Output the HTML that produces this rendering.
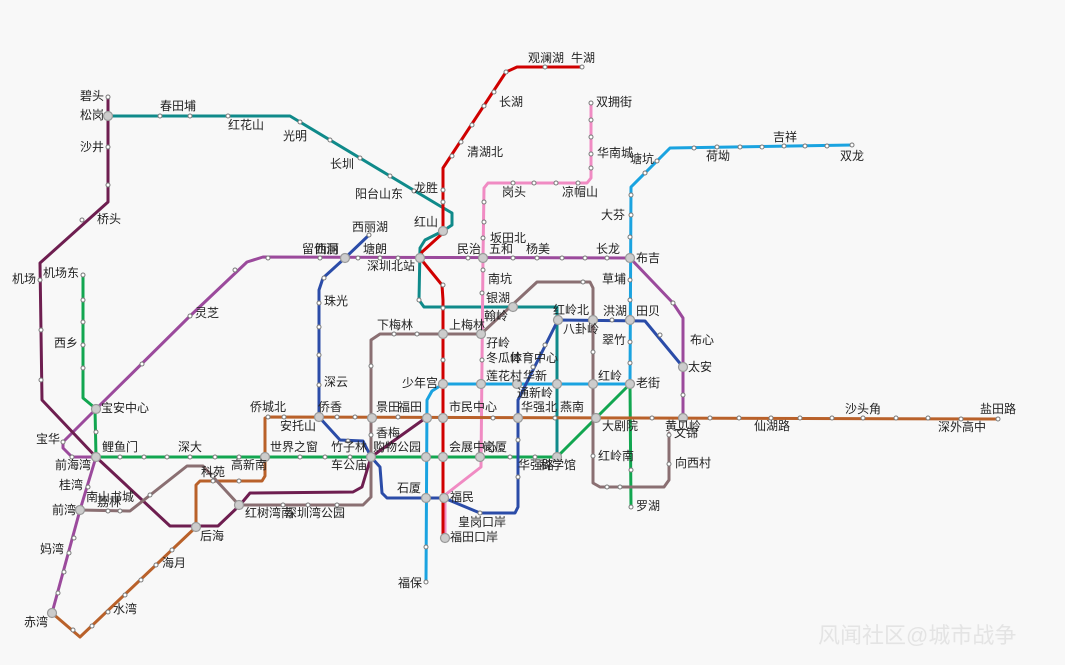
<!DOCTYPE html>
<html><head><meta charset="utf-8"><style>
html,body{margin:0;padding:0;background:#f8f8f8;}
svg{display:block;}
text{font-family:"Liberation Sans","Noto Sans CJK SC",sans-serif;font-size:12px;fill:#222;}
.l{fill:none;stroke-width:3;stroke-linejoin:round;stroke-linecap:round;}
</style></head><body>
<svg width="1065" height="665" viewBox="0 0 1065 665" xmlns="http://www.w3.org/2000/svg">
<rect width="1065" height="665" fill="#f8f8f8"/>
<!-- lines -->
<polyline class="l" stroke="#0f8a8a" points="108,116 290,116 440,206 452,213 452,225 443,231 425,240 420,248 419,300 424,307 557,307 557,457"/>
<polyline class="l" stroke="#f08bc3" points="591,103 591,178 587,183 488,183 484,188 483,258 481,467 445,495 445,538"/>
<polyline class="l" stroke="#d00000" points="582,67 517,67 506,72 443,168 443,233 422,252 420,258 442,285 443,300 443,537"/>
<polyline class="l" stroke="#1aa3e0" points="852,145 670,148 631,187 630,384 443,384 432,391 427,400 426,582"/>
<polyline class="l" stroke="#12a650" points="83,275 83,398 95,408 96,457 557,457 630,384 631,507"/>
<polyline class="l" stroke="#b9612a" points="52,613 80,637 196,527 196,485 200,481 262,481 265,476 265,418 268,417 998,419"/>
<polyline class="l" stroke="#9b4a9c" points="52,613 80,510 96,457 72,457 63,448 63,442 96,409 190,316 247,262 263,257 630,258 673,303 683,318 683,418"/>
<polyline class="l" stroke="#6e1e50" points="108,97 108,202 40,263 42,400 96,457 170,526 218,526 240,505 250,493 353,492 362,487 371,457 427,417"/>
<polyline class="l" stroke="#2b4ca8" points="369,235 345,258 323,278 319,290 319,417 340,440 363,441 371,457 380,467 382,493 387,498 444,498 480,513 515,513 518,507 518,400 558,320 645,321 683,367"/>
<polyline class="l" stroke="#8a6f72" points="80,510 130,511 187,466 203,466 239,505 363,505 371,497 371,340 380,334 481,334 537,282 590,282 593,288 593,483 600,487 664,487 669,480 669,433"/>
<!-- small stations -->
<g fill="#fff" stroke="#777" stroke-width="1">
<circle cx="108" cy="97" r="2"/><circle cx="108" cy="147" r="2"/><circle cx="108" cy="185" r="2"/><circle cx="82" cy="220" r="2"/><circle cx="40" cy="280" r="2"/><circle cx="41" cy="330" r="2"/><circle cx="41" cy="380" r="2"/>
<circle cx="160" cy="116" r="2"/><circle cx="190" cy="116" r="2"/><circle cx="228" cy="116" r="2"/><circle cx="300" cy="122" r="2"/><circle cx="330" cy="140" r="2"/><circle cx="360" cy="158" r="2"/><circle cx="390" cy="176" r="2"/><circle cx="414" cy="191" r="2"/><circle cx="419" cy="300" r="2"/>
<circle cx="83" cy="275" r="2"/><circle cx="83" cy="300" r="2"/><circle cx="83" cy="322" r="2"/><circle cx="83" cy="345" r="2"/><circle cx="83" cy="368" r="2"/><circle cx="96" cy="432" r="2"/>
<circle cx="120" cy="457" r="2"/><circle cx="144" cy="457" r="2"/><circle cx="167" cy="457" r="2"/><circle cx="190" cy="457" r="2"/><circle cx="215" cy="457" r="2"/><circle cx="239" cy="457" r="2"/><circle cx="300" cy="457" r="2"/><circle cx="325" cy="457" r="2"/><circle cx="350" cy="457" r="2"/><circle cx="510" cy="457" r="2"/><circle cx="535" cy="457" r="2"/>
<circle cx="190" cy="316" r="2"/><circle cx="142" cy="364" r="2"/><circle cx="235" cy="270" r="2"/><circle cx="268" cy="258" r="2"/><circle cx="320" cy="258" r="2"/><circle cx="358" cy="258" r="2"/><circle cx="380" cy="258" r="2"/><circle cx="398" cy="258" r="2"/><circle cx="468" cy="258" r="2"/><circle cx="513" cy="258" r="2"/><circle cx="537" cy="258" r="2"/><circle cx="562" cy="258" r="2"/><circle cx="585" cy="258" r="2"/><circle cx="607" cy="258" r="2"/><circle cx="673" cy="303" r="2"/><circle cx="683" cy="395" r="2"/>
<circle cx="63" cy="442" r="2"/><circle cx="72" cy="457" r="2"/><circle cx="88" cy="487" r="2"/><circle cx="74" cy="538" r="2"/><circle cx="69" cy="553" r="2"/><circle cx="64" cy="572" r="2"/><circle cx="58" cy="593" r="2"/>
<circle cx="73" cy="630" r="2"/><circle cx="92" cy="626" r="2"/><circle cx="108" cy="612" r="2"/><circle cx="125" cy="595" r="2"/><circle cx="141" cy="580" r="2"/><circle cx="156" cy="565" r="2"/><circle cx="172" cy="550" r="2"/><circle cx="213" cy="481" r="2"/><circle cx="239" cy="481" r="2"/><circle cx="268" cy="417" r="2"/><circle cx="284" cy="417" r="2"/><circle cx="337" cy="417" r="2"/><circle cx="355" cy="417" r="2"/><circle cx="398" cy="417" r="2"/><circle cx="493" cy="418" r="2"/><circle cx="555" cy="418" r="2"/><circle cx="652" cy="418" r="2"/><circle cx="710" cy="418" r="2"/><circle cx="739" cy="418" r="2"/><circle cx="771" cy="418" r="2"/><circle cx="800" cy="418" r="2"/><circle cx="832" cy="418" r="2"/><circle cx="863" cy="418" r="2"/><circle cx="896" cy="418" r="2"/><circle cx="928" cy="418" r="2"/><circle cx="961" cy="419" r="2"/><circle cx="998" cy="419" r="2"/>
<circle cx="108" cy="511" r="2"/><circle cx="120" cy="511" r="2"/><circle cx="150" cy="495" r="2"/><circle cx="213" cy="476" r="2"/><circle cx="283" cy="505" r="2"/><circle cx="308" cy="505" r="2"/><circle cx="337" cy="505" r="2"/><circle cx="371" cy="435" r="2"/><circle cx="371" cy="366" r="2"/><circle cx="394" cy="334" r="2"/><circle cx="417" cy="334" r="2"/><circle cx="583" cy="282" r="2"/><circle cx="593" cy="352" r="2"/><circle cx="593" cy="456" r="2"/><circle cx="607" cy="487" r="2"/><circle cx="620" cy="487" r="2"/><circle cx="669" cy="464" r="2"/><circle cx="669" cy="435" r="2"/>
<circle cx="369" cy="235" r="2"/><circle cx="324" cy="278" r="2"/><circle cx="319" cy="303" r="2"/><circle cx="319" cy="327" r="2"/><circle cx="319" cy="355" r="2"/><circle cx="319" cy="385" r="2"/><circle cx="348" cy="441" r="2"/><circle cx="480" cy="513" r="2"/><circle cx="518" cy="477" r="2"/><circle cx="518" cy="440" r="2"/><circle cx="533" cy="367" r="2"/><circle cx="545" cy="345" r="2"/><circle cx="612" cy="320" r="2"/><circle cx="660" cy="335" r="2"/>
<circle cx="506" cy="72" r="2"/><circle cx="545" cy="67" r="2"/><circle cx="582" cy="67" r="2"/><circle cx="494" cy="92" r="2"/><circle cx="484" cy="106" r="2"/><circle cx="472" cy="125" r="2"/><circle cx="461" cy="142" r="2"/><circle cx="452" cy="156" r="2"/><circle cx="443" cy="190" r="2"/><circle cx="443" cy="202" r="2"/><circle cx="443" cy="285" r="2"/><circle cx="443" cy="308" r="2"/><circle cx="443" cy="360" r="2"/>
<circle cx="591" cy="103" r="2"/><circle cx="591" cy="120" r="2"/><circle cx="591" cy="137" r="2"/><circle cx="591" cy="154" r="2"/><circle cx="591" cy="168" r="2"/><circle cx="578" cy="183" r="2"/><circle cx="556" cy="183" r="2"/><circle cx="534" cy="183" r="2"/><circle cx="513" cy="183" r="2"/><circle cx="484" cy="202" r="2"/><circle cx="484" cy="222" r="2"/><circle cx="483" cy="238" r="2"/><circle cx="483" cy="270" r="2"/><circle cx="482" cy="293" r="2"/><circle cx="482" cy="360" r="2"/>
<circle cx="852" cy="145" r="2"/><circle cx="827" cy="146" r="2"/><circle cx="805" cy="146" r="2"/><circle cx="784" cy="146" r="2"/><circle cx="762" cy="147" r="2"/><circle cx="740" cy="147" r="2"/><circle cx="717" cy="147" r="2"/><circle cx="694" cy="148" r="2"/><circle cx="657" cy="161" r="2"/><circle cx="645" cy="173" r="2"/><circle cx="631" cy="195" r="2"/><circle cx="631" cy="215" r="2"/><circle cx="630" cy="237" r="2"/><circle cx="630" cy="280" r="2"/><circle cx="630" cy="300" r="2"/><circle cx="630" cy="342" r="2"/><circle cx="630" cy="363" r="2"/><circle cx="426" cy="547" r="2"/><circle cx="426" cy="582" r="2"/>
<circle cx="631" cy="507" r="2"/><circle cx="631" cy="470" r="2"/>
</g>
<!-- interchange stations -->
<g fill="#ccc" stroke="#999" stroke-width="1.2">
<circle cx="108" cy="116" r="4.5"/><circle cx="96" cy="409" r="4.5"/><circle cx="96" cy="457" r="4.5"/><circle cx="80" cy="510" r="4.5"/><circle cx="52" cy="613" r="4.5"/><circle cx="196" cy="527" r="4.5"/><circle cx="239" cy="505" r="4.5"/><circle cx="265" cy="457" r="4.5"/><circle cx="319" cy="417" r="4.5"/><circle cx="371" cy="457" r="4.5"/><circle cx="372" cy="418" r="4.5"/><circle cx="427" cy="418" r="4.5"/><circle cx="426" cy="457" r="4.5"/><circle cx="443" cy="457" r="4.5"/><circle cx="443" cy="418" r="4.5"/><circle cx="480" cy="457" r="4.5"/><circle cx="426" cy="498" r="4.5"/><circle cx="444" cy="498" r="4.5"/><circle cx="445" cy="538" r="4.5"/><circle cx="443" cy="384" r="4.5"/><circle cx="481" cy="384" r="4.5"/><circle cx="517" cy="384" r="4.5"/><circle cx="557" cy="384" r="4.5"/><circle cx="593" cy="384" r="4.5"/><circle cx="630" cy="384" r="4.5"/><circle cx="518" cy="418" r="4.5"/><circle cx="443" cy="334" r="4.5"/><circle cx="481" cy="334" r="4.5"/><circle cx="513" cy="307" r="4.5"/><circle cx="558" cy="320" r="4.5"/><circle cx="593" cy="320" r="4.5"/><circle cx="630" cy="320" r="4.5"/><circle cx="596" cy="418" r="4.5"/><circle cx="683" cy="418" r="4.5"/><circle cx="683" cy="367" r="4.5"/><circle cx="630" cy="258" r="4.5"/><circle cx="420" cy="258" r="4.5"/><circle cx="483" cy="258" r="4.5"/><circle cx="345" cy="258" r="4.5"/><circle cx="443" cy="231" r="4.5"/><circle cx="557" cy="457" r="4.5"/>
</g>
<!-- labels -->
<g>
<text x="80" y="100">碧头</text><text x="80" y="119">松岗</text><text x="160" y="110">春田埔</text><text x="228" y="129">红花山</text><text x="283" y="140">光明</text><text x="330" y="168">长圳</text><text x="355" y="198">阳台山东</text><text x="414" y="192">龙胜</text><text x="414" y="226">红山</text>
<text x="80" y="151">沙井</text><text x="97" y="223">桥头</text><text x="12" y="283">机场</text><text x="43" y="277">机场东</text><text x="54" y="347">西乡</text><text x="195" y="317">灵芝</text><text x="101" y="412">宝安中心</text><text x="36" y="443">宝华</text><text x="102" y="451">鲤鱼门</text><text x="178" y="451">深大</text>
<text x="55" y="469">前海湾</text><text x="59" y="489">桂湾</text><text x="86" y="501">南山书城</text><text x="52" y="514">前湾</text><text x="97" y="506">荔林</text><text x="201" y="476">科苑</text><text x="231" y="469">高新南</text><text x="245" y="517">红树湾南</text><text x="285" y="517">深圳湾公园</text><text x="200" y="540">后海</text><text x="162" y="567">海月</text><text x="40" y="553">妈湾</text><text x="113" y="613">水湾</text><text x="24" y="626">赤湾</text>
<text x="250" y="411">侨城北</text><text x="280" y="430">安托山</text><text x="270" y="451">世界之窗</text><text x="318" y="411">侨香</text><text x="331" y="451">竹子林</text><text x="331" y="469">车公庙</text><text x="376" y="411">景田</text><text x="398" y="411">福田</text><text x="376" y="437">香梅</text><text x="373" y="451">购物公园</text><text x="397" y="492">石厦</text><text x="450" y="501">福民</text><text x="458" y="526">皇岗口岸</text><text x="450" y="541">福田口岸</text><text x="398" y="587">福保</text>
<text x="402" y="387">少年宫</text><text x="449" y="411">市民中心</text><text x="449" y="451">会展中心</text><text x="483" y="451">岗厦</text><text x="518" y="469">华强路</text><text x="540" y="469">科学馆</text><text x="521" y="411">华强北</text><text x="560" y="411">燕南</text><text x="517" y="397">通新岭</text><text x="486" y="380">莲花村</text><text x="523" y="380">华新</text><text x="486" y="362">冬瓜岭</text><text x="510" y="362">体育中心</text><text x="486" y="347">孖岭</text>
<text x="449" y="329">上梅林</text><text x="377" y="329">下梅林</text><text x="484" y="320">翰岭</text><text x="486" y="302">银湖</text><text x="488" y="283">南坑</text><text x="490" y="242">坂田北</text><text x="457" y="253">民治</text><text x="489" y="253">五和</text><text x="526" y="253">杨美</text><text x="596" y="253">长龙</text><text x="636" y="262">布吉</text><text x="602" y="283">草埔</text><text x="601" y="219">大芬</text><text x="630" y="163">塘坑</text><text x="597" y="157">华南城</text><text x="502" y="196">岗头</text><text x="562" y="196">凉帽山</text><text x="596" y="106">双拥街</text><text x="467" y="156">清湖北</text><text x="499" y="106">长湖</text><text x="528" y="62">观澜湖</text><text x="571" y="62">牛湖</text><text x="706" y="160">荷坳</text><text x="773" y="141">吉祥</text><text x="840" y="160">双龙</text>
<text x="553" y="314">红岭北</text><text x="603" y="315">洪湖</text><text x="636" y="315">田贝</text><text x="563" y="333">八卦岭</text><text x="602" y="344">翠竹</text><text x="690" y="344">布心</text><text x="688" y="371">太安</text><text x="598" y="380">红岭</text><text x="636" y="387">老街</text><text x="602" y="430">大剧院</text><text x="665" y="430">黄贝岭</text><text x="674" y="437">文锦</text><text x="598" y="460">红岭南</text><text x="675" y="467">向西村</text><text x="636" y="510">罗湖</text><text x="754" y="430">仙湖路</text><text x="845" y="413">沙头角</text><text x="938" y="431">深外高中</text><text x="980" y="413">盐田路</text>
<text x="352" y="231">西丽湖</text><text x="315" y="253">西丽</text><text x="302" y="253">留仙洞</text><text x="363" y="253">塘朗</text><text x="367" y="270">深圳北站</text><text x="324" y="305">珠光</text><text x="324" y="386">深云</text>
</g>
<text x="818" y="643" style="font-size:22px;fill:#e4e4e4">风闻社区@城市战争</text>
</svg>
</body></html>
